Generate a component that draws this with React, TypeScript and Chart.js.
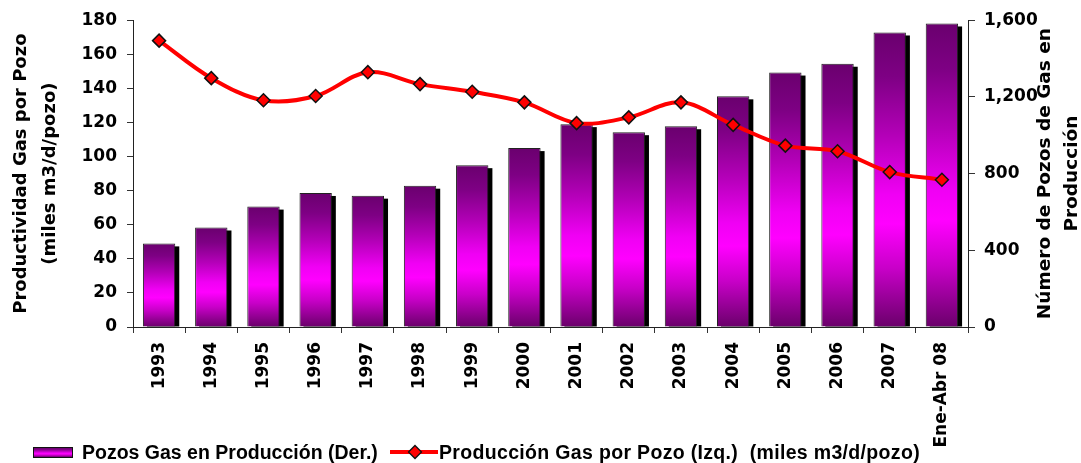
import React, { useEffect, useRef } from "react";
import { Chart, registerables } from "chart.js";

Chart.register(...registerables);

const categories = ["1993", "1994", "1995", "1996", "1997", "1998", "1999", "2000", "2001", "2002", "2003", "2004", "2005", "2006", "2007", "Ene-Abr 08"];
const pozosEnProduccion = [436, 519, 628, 699, 685, 737, 844, 933, 1058, 1016, 1047, 1203, 1327, 1373, 1536, 1583];
const produccionPorPozo = [168, 146, 133, 135.5, 149.5, 142.5, 138, 131.8, 119.6, 123, 131.8, 118.6, 106.4, 103.1, 90.9, 86.4];
const leftTitle = ["Productividad Gas por Pozo", "(miles m3/d/pozo)"];
const rightTitle = ["Número de Pozos de Gas en", "Producción"];
const barLabel = "Pozos Gas en Producción (Der.)";
const lineLabel = "Producción Gas por Pozo (Izq.)  (miles m3/d/pozo)";

const TICK_FONT = { family: "'DejaVu Sans', sans-serif", size: 17, weight: "bold" as const };
const TITLE_FONT = { family: "'DejaVu Sans', sans-serif", size: 18, weight: "bold" as const, lineHeight: 1.6 };

function addStops(g: CanvasGradient) {
  g.addColorStop(0, "#6a006e");
  g.addColorStop(0.15, "#7e0084");
  g.addColorStop(0.35, "#b400b8");
  g.addColorStop(0.55, "#f000f4");
  g.addColorStop(0.65, "#ff00ff");
  g.addColorStop(0.8, "#c800c8");
  g.addColorStop(1, "#6a006a");
  return g;
}

const shadowPlugin = {
  id: "barShadow",
  beforeDatasetDraw(chart: any, args: any) {
    const meta = chart.getDatasetMeta(args.index);
    if (meta.type !== "bar") return;
    const ctx = chart.ctx;
    ctx.save();
    ctx.fillStyle = "#000";
    meta.data.forEach((el: any) => {
      const p = el.getProps(["x", "y", "base", "width"], true);
      ctx.fillRect(p.x - p.width / 2 + 4, p.y + 3, p.width, p.base - p.y - 3);
    });
    ctx.restore();
  },
};

const rightTitlePlugin = {
  id: "rightTitle",
  afterDraw(chart: any) {
    const ctx = chart.ctx;
    const area = chart.chartArea;
    const cy = (area.top + area.bottom) / 2;
    ctx.save();
    ctx.fillStyle = "#000";
    ctx.font = "bold 18.5px 'DejaVu Sans', sans-serif";
    ctx.textAlign = "center";
    ctx.textBaseline = "middle";
    const xs = [1045, 1072];
    rightTitle.forEach((t, i) => {
      ctx.save();
      ctx.translate(xs[i], cy);
      ctx.rotate(-Math.PI / 2);
      ctx.fillText(t, 0, 0);
      ctx.restore();
    });
    ctx.restore();
  },
};

export default function App() {
  const canvasRef = useRef<HTMLCanvasElement>(null);
  const boxRef = useRef<HTMLCanvasElement>(null);

  useEffect(() => {
    if (!canvasRef.current) return;
    const chart = new Chart(canvasRef.current, {
      type: "bar",
      data: {
        labels: categories,
        datasets: [
          {
            type: "bar",
            label: barLabel,
            data: pozosEnProduccion,
            yAxisID: "y1",
            order: 2,
            borderColor: "#222",
            borderWidth: 1,
            barPercentage: 0.62,
            categoryPercentage: 1,
            backgroundColor: (c: any) => {
              const chart = c.chart;
              const ys = chart.scales.y1;
              if (!ys || !chart.chartArea || c.parsed == null) return "#c000c0";
              const top = ys.getPixelForValue(c.parsed.y);
              const bottom = ys.getPixelForValue(0);
              if (!isFinite(top) || !isFinite(bottom) || top === bottom) return "#c000c0";
              return addStops(chart.ctx.createLinearGradient(0, top, 0, bottom));
            },
          } as any,
          {
            type: "line",
            label: lineLabel,
            data: produccionPorPozo,
            yAxisID: "y",
            order: 1,
            borderColor: "#ff0000",
            borderWidth: 4,
            tension: 0.35,
            pointStyle: "rectRot",
            pointRadius: 6.5,
            pointBackgroundColor: "#ff0000",
            pointBorderColor: "#111",
            pointBorderWidth: 1.5,
          } as any,
        ],
      },
      options: {
        animation: false,
        responsive: false,
        maintainAspectRatio: false,
        layout: { padding: { top: 18, right: 0, left: 0, bottom: 0 } },
        plugins: {
          legend: { display: false },
          tooltip: { enabled: false },
        },
        scales: {
          x: {
            type: "category",
            offset: true,
            afterFit: (s: any) => { s.height = 136; },
            grid: { display: true, drawOnChartArea: false, drawTicks: true, tickLength: 6, offset: true, color: "#333" },
            border: { display: true, color: "#222", width: 1 },
            ticks: { autoSkip: false, maxRotation: 90, minRotation: 90, padding: 9, color: "#000", font: TICK_FONT },
          },
          y: {
            type: "linear",
            position: "left",
            min: 0,
            max: 180,
            afterFit: (s: any) => { s.width = 133; },
            grid: { display: true, drawOnChartArea: false, drawTicks: true, tickLength: 6, color: "#333" },
            border: { display: true, color: "#222", width: 1 },
            ticks: { stepSize: 20, padding: 10, color: "#000", font: TICK_FONT },
            title: { display: true, text: leftTitle, color: "#000", font: TITLE_FONT, padding: { top: 7, bottom: 0 } },
          },
          y1: {
            type: "linear",
            position: "right",
            min: 0,
            max: 1600,
            afterFit: (s: any) => { s.width = 113; },
            grid: { display: true, drawOnChartArea: false, drawTicks: true, tickLength: 7, color: "#333" },
            border: { display: true, color: "#222", width: 1 },
            ticks: {
              stepSize: 400,
              padding: 9,
              color: "#000",
              font: TICK_FONT,
              callback: (v: any) => Number(v).toLocaleString("en-US"),
            },
          },
        },
      },
      plugins: [shadowPlugin, rightTitlePlugin],
    });

    const b = boxRef.current;
    if (b) {
      const bctx = b.getContext("2d");
      if (bctx) {
        bctx.clearRect(0, 0, b.width, b.height);
        bctx.fillStyle = "#111";
        bctx.fillRect(0, 0, b.width, b.height);
        bctx.fillStyle = addStops(bctx.createLinearGradient(0, 1, 0, b.height - 1));
        bctx.fillRect(1, 1, b.width - 2, b.height - 2);
      }
    }
    return () => chart.destroy();
  }, []);

  const legendText: React.CSSProperties = {
    fontFamily: "'Liberation Sans', Arial, sans-serif",
    fontWeight: "bold",
    fontSize: 19.5,
    color: "#000",
    whiteSpace: "pre",
    lineHeight: "20px",
  };

  return (
    <div style={{ position: "absolute", left: 0, top: 0, width: 1081, height: 463, background: "#fff", overflow: "hidden" }}>
      <canvas ref={canvasRef} width={1081} height={463} style={{ position: "absolute", left: 0, top: 0, width: 1081, height: 463 }} />
      <div style={{ position: "absolute", left: 33, top: 442, height: 20, display: "flex", alignItems: "center" }}>
        <canvas ref={boxRef} width={40} height={11} style={{ width: 40, height: 11, marginRight: 9 }} />
        <span style={legendText}>{barLabel}</span>
      </div>
      <div style={{ position: "absolute", left: 390, top: 442, height: 20, display: "flex", alignItems: "center" }}>
        <svg width={48} height={16} style={{ marginRight: 1 }}>
          <line x1={0} y1={8} x2={48} y2={8} stroke="#ff0000" strokeWidth={4} />
          <polygon points="25,1.5 31.5,8 25,14.5 18.5,8" fill="#ff0000" stroke="#111" strokeWidth={1.3} />
        </svg>
        <span style={{ ...legendText, letterSpacing: "0.33px" }}>{lineLabel}</span>
      </div>
    </div>
  );
}
